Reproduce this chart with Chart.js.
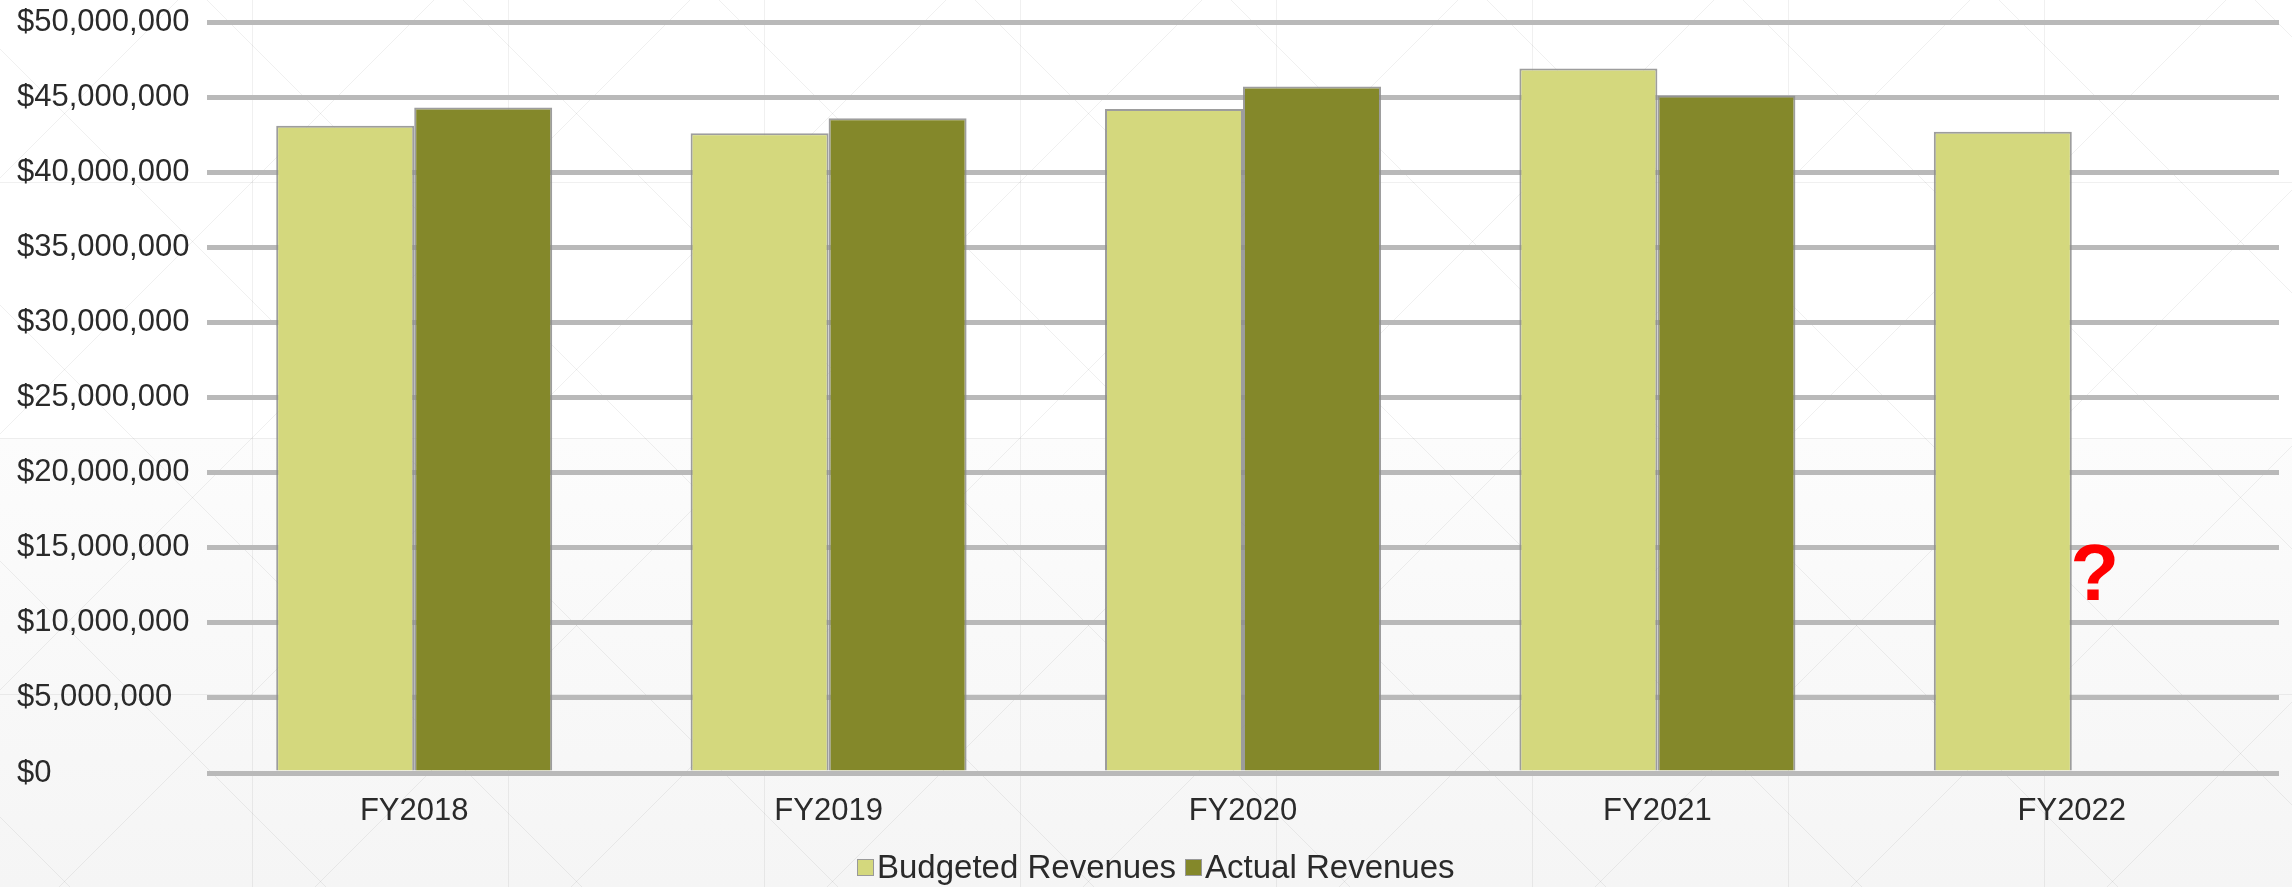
<!DOCTYPE html>
<html lang="en">
<head>
<meta charset="UTF-8" />
<title>Budgeted vs Actual Revenues</title>
<script src="https://cdn.jsdelivr.net/npm/chart.js"></script>
<style>
  body { margin: 0; background: #fff; }
  .wrap { position: relative; width: 2292px; height: 887px; }
  #legend {
    position: absolute; left: 857px; top: 849px;
    display: flex;
    font-family: "Liberation Sans", Arial, sans-serif;
    font-size: 33px; line-height: 36px; color: #2a2a2a;
  }
  #legend .item { display: flex; align-items: center; margin-right: 9px; }
  #legend .box { width: 15px; height: 15px; border: 1px solid #999; margin-right: 3px; }
</style>
</head>
<body>
<div class="wrap">
  <canvas id="revenueChart" width="2292" height="887"></canvas>
  <div id="legend"></div>
</div>
<script>
const years = ['FY2018', 'FY2019', 'FY2020', 'FY2021', 'FY2022'];
const budgeted = [43100000, 42600000, 44200000, 46900000, 42700000];
const actual = [44300000, 43600000, 45700000, 45100000, null];
const yMin = 0;
const yMax = 50000000;
const yStep = 5000000;

// FY2022 actuals aren't in yet - flagged with a red "?"
const pendingIndex = 4;
const pendingAt = 13000000;

const budgetColor = '#d4d87d';
const actualColor = '#84882a';

const fontFamily = '"Liberation Sans", Arial, sans-serif';

// white page with a faint tiled X pattern, lower half slightly grey
const backdrop = {
  id: 'backdrop',
  beforeDraw(chart) {
    const { ctx, width, height } = chart;
    ctx.save();
    ctx.fillStyle = '#ffffff';
    ctx.fillRect(0, 0, width, height);
    const g = ctx.createLinearGradient(0, 438, 0, height);
    g.addColorStop(0, '#fcfcfc');
    g.addColorStop(1, '#f5f5f5');
    ctx.fillStyle = g;
    ctx.fillRect(0, 438, width, height - 438);

    const tile = 256, ox = 252 - tile, oy = 182 - tile;
    ctx.strokeStyle = 'rgba(0,0,0,0.06)';
    ctx.lineWidth = 1;
    ctx.beginPath();
    for (let x = ox; x <= width; x += tile) {
      ctx.moveTo(x + 0.5, 0); ctx.lineTo(x + 0.5, height);
    }
    for (let y = oy; y <= height; y += tile) {
      ctx.moveTo(0, y + 0.5); ctx.lineTo(width, y + 0.5);
    }
    for (let x = ox - height - tile; x <= width + height; x += tile) {
      ctx.moveTo(x, oy); ctx.lineTo(x + height + tile, oy + height + tile);
      ctx.moveTo(x, oy + height + tile); ctx.lineTo(x + height + tile, oy);
    }
    ctx.stroke();
    ctx.restore();
  }
};

const pendingMark = {
  id: 'pendingMark',
  afterDatasetsDraw(chart) {
    const { ctx, scales } = chart;
    const x = scales.x.getPixelForValue(pendingIndex) + 23;
    const y = scales.y.getPixelForValue(pendingAt);
    ctx.save();
    ctx.fillStyle = '#ff0000';
    ctx.font = 'bold 80px ' + fontFamily;
    ctx.textAlign = 'center';
    ctx.textBaseline = 'middle';
    ctx.fillText('?', x, y);
    ctx.restore();
  }
};

const chart = new Chart(document.getElementById('revenueChart'), {
  type: 'bar',
  data: {
    labels: years,
    datasets: [
      { label: 'Budgeted Revenues', data: budgeted, backgroundColor: budgetColor },
      { label: 'Actual Revenues', data: actual, backgroundColor: actualColor }
    ]
  },
  options: {
    responsive: false,
    animation: false,
    layout: { padding: { left: 17, right: 13, top: 22, bottom: 64 } },
    datasets: {
      bar: {
        categoryPercentage: 0.666,
        barPercentage: 1,
        borderWidth: 2,
        borderColor: 'rgba(140,140,140,0.85)'
      }
    },
    plugins: {
      legend: { display: false },
      tooltip: { enabled: false }
    },
    scales: {
      x: {
        grid: { display: false },
        border: { display: false },
        ticks: {
          color: '#2a2a2a',
          padding: 12,
          font: { family: fontFamily, size: 31 }
        },
        afterFit(scale) { scale.height = 50; }
      },
      y: {
        min: yMin,
        max: yMax,
        border: { display: false },
        grid: { color: '#b9b9b9', lineWidth: 5, drawTicks: false },
        ticks: {
          stepSize: yStep,
          color: '#2a2a2a',
          padding: 15,
          crossAlign: 'far',
          font: { family: fontFamily, size: 31 },
          callback: v => '$' + Number(v).toLocaleString('en-US')
        },
        afterFit(scale) {
          scale.width = 190;
          // top label may overhang the plot; the layout padding covers it
          scale.paddingTop = 0;
          scale.paddingBottom = 0;
        }
      }
    }
  },
  plugins: [backdrop, pendingMark]
});

// legend with the box tight against the label
const legendEl = document.getElementById('legend');
chart.data.datasets.forEach(ds => {
  const item = document.createElement('span');
  item.className = 'item';
  const box = document.createElement('span');
  box.className = 'box';
  box.style.background = ds.backgroundColor;
  item.appendChild(box);
  item.appendChild(document.createTextNode(ds.label));
  legendEl.appendChild(item);
});
</script>
</body>
</html>
